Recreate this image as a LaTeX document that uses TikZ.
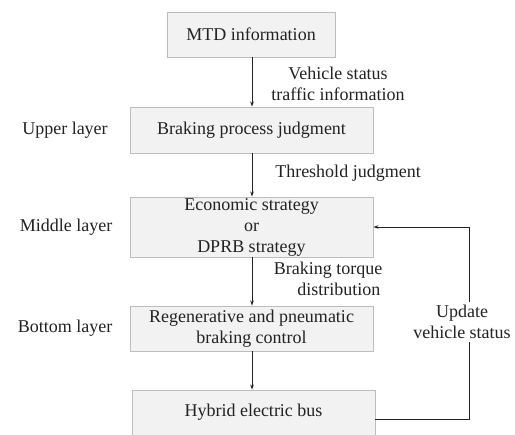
\documentclass[tikz,border=0pt]{standalone}
\usepackage{fontspec}
\setmainfont{Liberation Serif}
\usetikzlibrary{arrows.meta}
\definecolor{boxfill}{HTML}{F2F2F2}
\definecolor{boxline}{HTML}{BDBDBD}
\definecolor{ink}{HTML}{222222}
\begin{document}
\begin{tikzpicture}[x=1pt,y=-1pt,
  font=\fontsize{18}{21}\selectfont,
  every node/.style={text=ink},
  box/.style={draw=boxline,fill=boxfill,line width=0.9pt,inner sep=0pt,align=center,minimum width=243pt},
  lbl/.style={align=center,inner sep=0pt},
  conn/.style={draw=ink,line width=0.8pt,-{Stealth[length=5pt,width=3.5pt]}}]
\clip (0,0) rectangle (515,435);
\node[box,minimum width=168pt,minimum height=45pt] (mtd) at (251,34.5) {MTD information};
\node[box,minimum height=46pt] (bpj) at (251.5,130) {Braking process judgment};
\node[box,minimum height=60pt] (eco) at (251.5,227) {Economic strategy\\or\\DPRB strategy};
\node[box,minimum height=45pt] (reg) at (251.5,328.5) {Regenerative and pneumatic\\braking control};
\node[box,minimum height=58pt] (hyb) at (253.5,419) {};
\node[lbl] (hybt) at (253.5,412) {Hybrid electric bus};

\node[lbl] (ul) at (65,130) {Upper layer};
\node[lbl] (ml) at (66,227) {Middle layer};
\node[lbl] (bl) at (65,328) {Bottom layer};

\node[lbl] (vs) at (338,84) {Vehicle status\\traffic information};
\node[lbl] (tj) at (348,173) {Threshold judgment};
\node[lbl] (bt) at (328,279) {Braking torque\\\hspace*{1.2em}distribution};

\draw[conn] (mtd.south -| 252,0) -- (bpj.north -| 252,0);
\draw[conn] (bpj.south -| 252,0) -- (eco.north -| 252,0);
\draw[conn] (eco.south -| 252,0) -- (reg.north -| 252,0);
\draw[conn] (reg.south -| 252,0) -- (hyb.north -| 252,0);

\coordinate (corner1) at (469,0 |- hyb.east);
\coordinate (corner2) at (469,0 |- eco.east);
\node[lbl,fill=white,inner ysep=3pt] (uv) at (462,322) {Update\\vehicle status};
\draw[draw=ink,line width=0.8pt] (hyb.east) -- (corner1) -- (uv.south -| corner1);
\draw[conn] (uv.north -| corner1) -- (corner2) -- (eco.east);
\end{tikzpicture}
\end{document}
